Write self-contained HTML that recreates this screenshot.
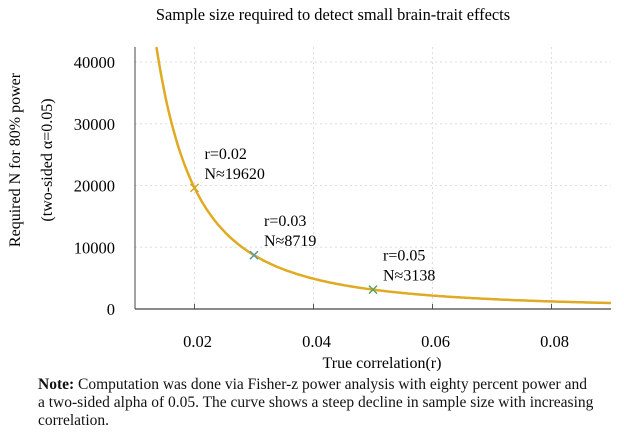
<!DOCTYPE html>
<html><head><meta charset="utf-8"><style>
body{margin:0;background:#fff;width:624px;height:434px;overflow:hidden;font-family:"Liberation Serif",serif;}
#note{position:absolute;left:38px;top:376px;width:590px;font-size:15.5px;line-height:18px;color:#111;white-space:nowrap;}
</style></head><body>
<svg id="chart" width="624" height="434" style="position:absolute;left:0;top:0" font-family="Liberation Serif, serif"></svg>
<div id="note"><b>Note:</b> Computation was done via Fisher-z power analysis with eighty percent power and<br>a two-sided alpha of 0.05. The curve shows a steep decline in sample size with increasing<br>correlation.</div>
<script>
const xTicks=[0.02,0.04,0.06,0.08];
const xTickLabels=["0.02","0.04","0.06","0.08"];
const yTicks=[0,10000,20000,30000,40000];
const yTickLabels=["0","10000","20000","30000","40000"];
const markR=[0.02,0.03,0.05];
const markN=[19620,8719,3138];
const markLabels=["r=0.02","r=0.03","r=0.05"];
const markNLabels=["N≈19620","N≈8719","N≈3138"];
const markColors=["#d9a520","#5b9aa0","#5aa060"];
const ns="http://www.w3.org/2000/svg";
const svg=document.getElementById('chart');
const X0=135,X1=611,Y0=309,Ytop=47;
const xs=r=>X0+(r-0.01)/(0.08)*(X1-X0);
const ys=n=>Y0-n*(309-62)/40000;
function el(t,a,p){const e=document.createElementNS(ns,t);for(const k in a)e.setAttribute(k,a[k]);(p||svg).appendChild(e);return e;}
let t=el('text',{x:333,y:20,'text-anchor':'middle','font-size':16.4});t.textContent='Sample size required to detect small brain-trait effects';


xTicks.forEach((v,i)=>{
 const g=el('line',{x1:xs(v),x2:xs(v),y1:Ytop,y2:Y0,stroke:'#ddd','stroke-dasharray':'2,3'});
 
 
 const tk=el('line',{x1:xs(v),x2:xs(v),y1:Y0,y2:Y0-5,stroke:'#555'});
 
 
 const l=el('text',{x:xs(v)+3,y:Y0+38,'text-anchor':'middle','font-size':16.5});l.textContent=xTickLabels[i];
 
 
});
yTicks.forEach((v,i)=>{
 if(v>0){const g=el('line',{x1:X0,x2:X1,y1:ys(v),y2:ys(v),stroke:'#ddd','stroke-dasharray':'2,3'});
 
 }
 const l=el('text',{x:115,y:ys(v)+6,'text-anchor':'end','font-size':16.5});l.textContent=yTickLabels[i];
 
 
});
let ax=el('line',{x1:X0,x2:X0,y1:Ytop,y2:Y0,stroke:'#444','stroke-width':1});


ax=el('line',{x1:X0,x2:X1,y1:Y0,y2:Y0,stroke:'#444','stroke-width':1.2});


const z=1.959964+0.841621;
let d='';
for(let r=0.0136;r<=0.09;r+=0.0004){const n=(z/Math.atanh(r))**2+3;d+=(d?'L':'M')+xs(r).toFixed(1)+','+ys(n).toFixed(1);}
const c=el('path',{d:d,fill:'none',stroke:'#e0aa22','stroke-width':2.5});


markR.forEach((r,i)=>{
 const x=xs(r),y=ys(markN[i]);
 const m=el('path',{d:`M${x-4},${y-4}L${x+4},${y+4}M${x-4},${y+4}L${x+4},${y-4}`,stroke:markColors[i],'stroke-width':1.5});
 
 
 const a=el('text',{x:x+10,y:y-29,'font-size':16});a.textContent=markLabels[i];
 
 
 const b=el('text',{x:x+10,y:y-9,'font-size':16});b.textContent=markNLabels[i];
 
 
});
t=el('text',{x:382,y:368,'text-anchor':'middle','font-size':16});t.textContent='True correlation(r)';


t=el('text',{x:0,y:0,'text-anchor':'middle','font-size':16,transform:'translate(20,160) rotate(-90)'});t.textContent='Required N for 80% power';


t=el('text',{x:0,y:0,'text-anchor':'middle','font-size':16,transform:'translate(52,160) rotate(-90)'});t.textContent='(two-sided α=0.05)';


</script>
</body></html>
